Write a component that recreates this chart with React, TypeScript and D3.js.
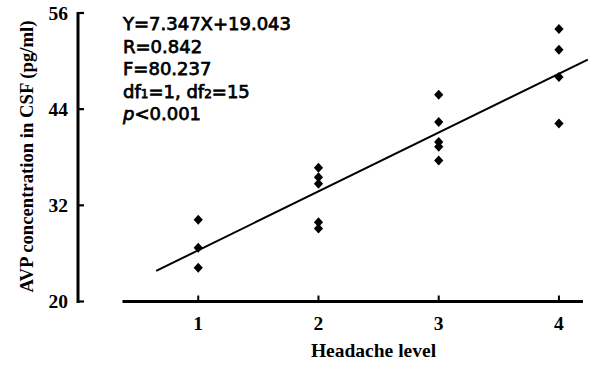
import React from 'react';
import * as d3 from 'd3';

// headache level groups and AVP values
const levels = [1, 2, 3, 4];
const level1 = [30.2, 26.7, 24.2];
const level2 = [36.7, 35.5, 34.7, 29.9, 29.1];
const level3 = [45.8, 42.4, 39.9, 39.3, 37.6];
const level4 = [54.0, 51.4, 48.0, 42.2];
const yTicks = [20, 32, 44, 56];

const slope = 7.347;
const intercept = 19.043;
const fitRange = [0.65, 4.24];

const width = 593,
    height = 365;

export default function App() {
    var x = d3.scaleLinear().domain([0, 4.2]).range([78, 583]);
    var y = d3.scaleLinear().domain([20, 56]).range([301.5, 13]);

    var groups = [level1, level2, level3, level4];
    var points = [];
    groups.forEach(function (vals, i) {
        vals.forEach(function (v) { points.push({ lvl: levels[i], v: v }); });
    });

    var line = d3.line()
        .x(function (d) { return x(d); })
        .y(function (d) { return y(slope * d + intercept); });

    var diamond = "M0,-5L4.6,0L0,5L-4.6,0Z";
    var serif = "'Liberation Serif', 'Times New Roman', serif";
    var sans = "'DejaVu Sans', sans-serif";

    var stats = [
        [{ t: "Y=7.347X+19.043" }],
        [{ t: "R=0.842" }],
        [{ t: "F=80.237" }],
        [{ t: "df" }, { t: "1", small: true }, { t: "=1, df" }, { t: "2", small: true }, { t: "=15" }],
        [{ t: "p", italic: true }, { t: "<0.001" }]
    ];

    return (
        <svg width={width} height={height}
            style={{ position: "absolute", left: 0, top: 0, background: "#fff" }}>
            {/* y axis */}
            <line x1={x(0)} x2={x(0)} y1={y(56) - 1} y2={y(20) + 1.5} stroke="#000" strokeWidth={3} />
            {yTicks.map(function (t) {
                return (
                    <g key={t}>
                        <line x1={x(0)} x2={x(0) + 6} y1={y(t)} y2={y(t)} stroke="#000" strokeWidth={2.2} />
                        <text x={68} y={y(t) + 6.5} textAnchor="end" fontFamily={serif}
                            fontWeight="bold" fontSize={19.5}>{t}</text>
                    </g>
                );
            })}
            {/* x axis */}
            <line x1={x(0.37)} x2={x(4.2)} y1={y(20)} y2={y(20)} stroke="#000" strokeWidth={3} />
            {levels.map(function (l) {
                return (
                    <g key={l}>
                        <line x1={x(l)} x2={x(l)} y1={y(20)} y2={y(20) - 6} stroke="#000" strokeWidth={2} />
                        <text x={x(l)} y={330} textAnchor="middle" fontFamily={serif}
                            fontWeight="bold" fontSize={19.5}>{l}</text>
                    </g>
                );
            })}
            <text x={373.5} y={357} textAnchor="middle" fontFamily={serif} fontWeight="bold"
                fontSize={19.5}>Headache level</text>
            <text transform="translate(33,156.5) rotate(-90)" textAnchor="middle" fontFamily={serif}
                fontWeight="bold" fontSize={18.7}>AVP concentration in CSF (pg/ml)</text>

            {/* fit line */}
            <path d={line(fitRange)} fill="none" stroke="#000" strokeWidth={2} />

            {points.map(function (p, i) {
                return <path key={i} d={diamond}
                    transform={"translate(" + x(p.lvl) + "," + y(p.v) + ")"} fill="#000" />;
            })}

            {/* statistics */}
            {stats.map(function (row, i) {
                return (
                    <text key={i} x={123} y={30 + i * 22.6} fontFamily={sans} fontSize={18}
                        stroke="#000" strokeWidth={0.75}>
                        {row.map(function (s, j) {
                            return <tspan key={j} fontStyle={s.italic ? "italic" : "normal"}
                                fontSize={s.small ? 12 : 18}>{s.t}</tspan>;
                        })}
                    </text>
                );
            })}
        </svg>
    );
}
